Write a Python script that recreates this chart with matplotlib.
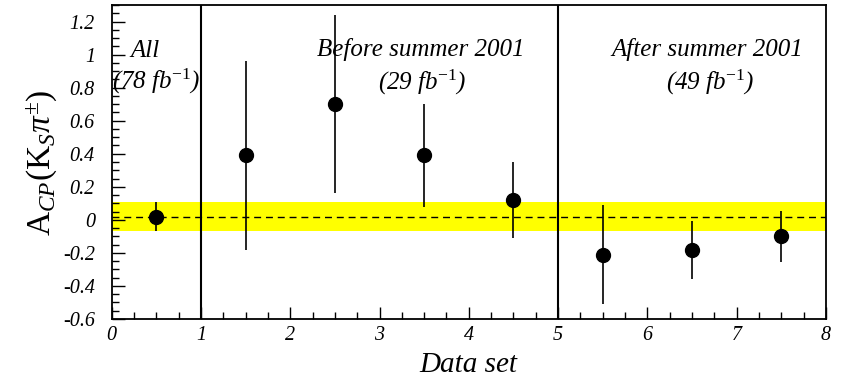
import matplotlib
matplotlib.use("Agg")
import matplotlib.pyplot as plt
from matplotlib.ticker import MultipleLocator
import numpy as np

plt.rcParams['font.family'] = ['Liberation Serif', 'DejaVu Serif']
plt.rcParams['mathtext.fontset'] = 'custom'
plt.rcParams['mathtext.rm'] = 'Liberation Serif'
plt.rcParams['mathtext.it'] = 'Liberation Serif:italic'
plt.rcParams['mathtext.bf'] = 'Liberation Serif:bold'

# Data sets and measured asymmetries
data_set = [0.5, 1.5, 2.5, 3.5, 4.5, 5.5, 6.5, 7.5]
acp = [0.02, 0.39, 0.70, 0.39, 0.12, -0.21, -0.18, -0.10]
acp_err = [0.09, 0.57, 0.54, 0.31, 0.23, 0.30, 0.175, 0.155]

# Combined result (band)
avg_value = 0.02
avg_error = 0.09

# Period boundaries
boundaries = [1, 5]

fig = plt.figure(figsize=(8.42, 3.83), dpi=100)
ax = fig.add_axes([111.6 / 842, 1 - 319 / 383, (826 - 111.6) / 842, (319 - 5) / 383])

ax.set_xlim(0, 8)
ax.set_ylim(-0.6, 1.3)

ax.axhspan(avg_value - avg_error, avg_value + avg_error, color='#ffff00', lw=0, zorder=1)
ax.axhline(avg_value, color='black', lw=1.0, ls=(0, (5, 3.5)), zorder=2)

for b in boundaries:
    ax.axvline(b, color='black', lw=1.5, zorder=3)

ax.errorbar(data_set, acp, yerr=acp_err, fmt='o', color='black', ms=10,
            elinewidth=1.2, capsize=0, zorder=4)

txt_kw = dict(fontsize=18, style='italic', ha='center', va='center')
ax.text(0.37, 1.02, 'All', **txt_kw)
ax.text(0.5, 0.84, r'(78 fb$^{-1}$)', **txt_kw)
ax.text(3.46, 1.03, 'Before summer 2001', **txt_kw)
ax.text(3.48, 0.83, r'(29 fb$^{-1}$)', **txt_kw)
ax.text(6.67, 1.03, 'After summer 2001', **txt_kw)
ax.text(6.70, 0.83, r'(49 fb$^{-1}$)', **txt_kw)

ax.xaxis.set_major_locator(MultipleLocator(1))
ax.xaxis.set_minor_locator(MultipleLocator(0.25))
ax.yaxis.set_major_locator(MultipleLocator(0.2))
ax.yaxis.set_minor_locator(MultipleLocator(0.05))
ax.tick_params(which='both', direction='in', top=False, right=False, width=1.0)
ax.tick_params(which='major', length=9)
ax.tick_params(which='minor', length=5)
ax.tick_params(axis='y', which='major', pad=12)
ax.tick_params(axis='x', which='major', pad=5)

def fmt(v):
    s = f'{v:.1f}'
    if s in ('0.0', '-0.0'):
        return '0'
    if s.endswith('.0'):
        s = s[:-2]
    return s

yt = np.arange(-0.6, 1.21, 0.2)
ax.set_yticks(yt)
ax.set_yticklabels([fmt(v) for v in yt], fontsize=14.5, style='italic')
ax.set_xticks(range(0, 9))
ax.set_xticklabels([str(i) for i in range(0, 9)], fontsize=14.5, style='italic')

for s in ax.spines.values():
    s.set_linewidth(1.3)

ax.set_xlabel('Data set', fontsize=21, style='italic', labelpad=5)
fig.text(42 / 842, 1 - 163 / 383, r'$\mathrm{A}_{CP}(\mathrm{K}_{S}\pi^{\pm})$',
         rotation=90, fontsize=24, ha='center', va='center')

fig.savefig('out.png', dpi=100)
